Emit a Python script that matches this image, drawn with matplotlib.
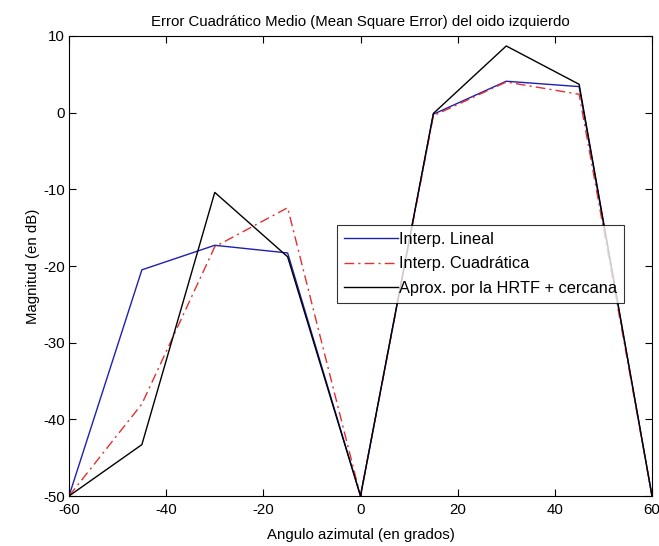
import matplotlib
matplotlib.use("Agg")
import matplotlib.pyplot as plt

plt.rcParams['font.family'] = ['Liberation Sans', 'DejaVu Sans']
plt.rcParams['axes.unicode_minus'] = False

angles = [-60, -45, -30, -15, 0, 15, 30, 45, 60]
lineal = [-50, -20.5, -17.3, -18.3, -50, -0.2, 4.1, 3.4, -50]
cuadratica = [-50, -38.0, -17.5, -12.4, -50, -0.4, 4.0, 2.4, -50]
cercana = [-50, -43.3, -10.4, -18.8, -50, -0.1, 8.7, 3.7, -50]

xticks = [-60, -40, -20, 0, 20, 40, 60]
yticks = [-50, -40, -30, -20, -10, 0, 10]

fs = 10.8

fig = plt.figure(figsize=(6.59, 5.46), dpi=100)
ax = fig.add_axes([69/659, 50/546, (652-69)/659, (496-36)/546])

ax.plot(angles, lineal, color='#1f1fb0', lw=1.0, label='Interp. Lineal')
ax.plot(angles, cuadratica, color='#e03030', lw=1.0, linestyle=(0, (7, 3, 1.5, 3)), label='Interp. Cuadrática')
ax.plot(angles, cercana, color='black', lw=1.0, label='Aprox. por la HRTF + cercana')

ax.set_xlim(-60, 60)
ax.set_ylim(-50, 10)
ax.set_xticks(xticks)
ax.set_yticks(yticks)
ax.tick_params(direction='in', length=5, labelsize=fs, top=True, right=True, width=0.8)
ax.tick_params(axis='x', pad=5)
ax.tick_params(axis='y', pad=3)
for s in ax.spines.values():
    s.set_linewidth(0.8)

ax.set_title('Error Cuadrático Medio (Mean Square Error) del oido izquierdo', fontsize=fs, pad=7)
ax.set_xlabel('Angulo azimutal (en grados)', fontsize=fs, labelpad=8)
ax.set_ylabel('Magnitud (en dB)', fontsize=fs, labelpad=2)

lfs = 11.8
leg = ax.legend(loc='upper left', bbox_to_anchor=((337-69)/583, 1 - (225-36)/460),
                fontsize=lfs, frameon=True, fancybox=False, edgecolor='black',
                borderpad=0.4, labelspacing=0.6, handlelength=3.3, handletextpad=0.1,
                borderaxespad=0)
leg.get_frame().set_linewidth(0.8)

fig.savefig('out.png', dpi=100)
